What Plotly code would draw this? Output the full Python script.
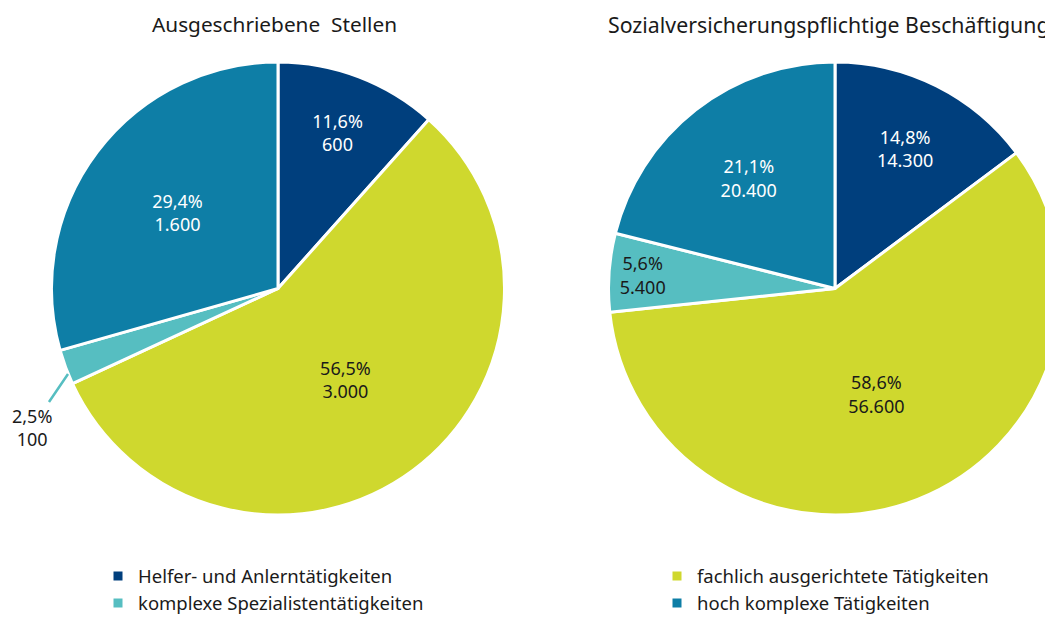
import plotly.graph_objects as go

categories = ["Helfer- und Anlerntätigkeiten", "fachlich ausgerichtete Tätigkeiten",
              "komplexe Spezialistentätigkeiten", "hoch komplexe Tätigkeiten"]
colors = ["#003f7d", "#cfd82e", "#56bec1", "#0e7ea6"]
text_colors = ["white", "#1a1a1a", "#1a1a1a", "white"]

titles = ["Ausgeschriebene  Stellen", "Sozialversicherungspflichtige Beschäftigung"]
stellen_pct = [11.6, 56.5, 2.5, 29.4]
stellen_count = [600, 3000, 100, 1600]
besch_pct = [14.8, 58.6, 5.6, 21.1]
besch_count = [14300, 56600, 5400, 20400]


def de_pct(v):
    return f"{v:.1f}".replace(".", ",") + "%"


def de_num(v):
    return f"{v:,}".replace(",", ".")


W, H = 1300, 640
OX, OY = 8, 8  # body offset of the page


def px(x):
    return (x - OX) / W


def py(y):
    return 1 - (y - OY) / H


FONT = "Noto Sans"
TXT = "#1a1a1a"

left_text = [f"{de_pct(p)}<br>{de_num(c)}" for p, c in zip(stellen_pct, stellen_count)]
left_text[2] = ""
right_text = [f"{de_pct(p)}<br>{de_num(c)}" for p, c in zip(besch_pct, besch_count)]

R = 226.5
fig = go.Figure()
fig.add_trace(go.Pie(
    labels=categories, values=stellen_pct, text=left_text, textinfo="text",
    textposition="inside", insidetextorientation="horizontal",
    sort=False, direction="clockwise", rotation=0,
    marker=dict(colors=colors, line=dict(color="white", width=3)),
    insidetextfont=dict(color=text_colors, size=18, family=FONT),
    domain=dict(x=[px(278 - R), px(278 + R)], y=[py(288.5 + R), py(288.5 - R)]),
    hoverinfo="label+percent",
))
fig.add_trace(go.Pie(
    labels=categories, values=besch_pct, text=right_text, textinfo="text",
    textposition="inside", insidetextorientation="horizontal",
    sort=False, direction="clockwise", rotation=0,
    marker=dict(colors=colors, line=dict(color="white", width=3)),
    insidetextfont=dict(color=text_colors, size=18, family=FONT),
    domain=dict(x=[px(835 - R), px(835 + R)], y=[py(288.5 + R), py(288.5 - R)]),
    hoverinfo="label+percent", showlegend=False,
))

annotations = [
    dict(text=titles[0], x=px(274), y=py(24), xref="paper", yref="paper",
         xanchor="center", yanchor="middle",
         showarrow=False, font=dict(size=20.8, family=FONT, color=TXT)),
    dict(text=titles[1], x=px(829), y=py(24), xref="paper", yref="paper",
         xanchor="center", yanchor="middle",
         showarrow=False, font=dict(size=21.3, family=FONT, color=TXT)),
    dict(text=f"{de_pct(stellen_pct[2])}<br>{de_num(stellen_count[2])}",
         x=px(68), y=py(374), xref="paper", yref="paper",
         ax=-36, ay=53, showarrow=True, arrowhead=0, arrowwidth=2.5,
         arrowcolor=colors[2], standoff=0, startstandoff=0,
         font=dict(size=18, family=FONT, color=TXT)),
]

fig.update_layout(
    width=W, height=H,
    margin=dict(l=0, r=0, t=0, b=0),
    paper_bgcolor="white", plot_bgcolor="white",
    font=dict(family=FONT, color=TXT),
    annotations=annotations,
    legend=dict(orientation="h", x=px(98), y=py(557.5), xanchor="left", yanchor="top",
                entrywidth=514, entrywidthmode="pixels", traceorder="normal",
                font=dict(size=18.5, family=FONT, color=TXT),
                itemwidth=30, tracegroupgap=0),
)

fig.write_html("out.html")
